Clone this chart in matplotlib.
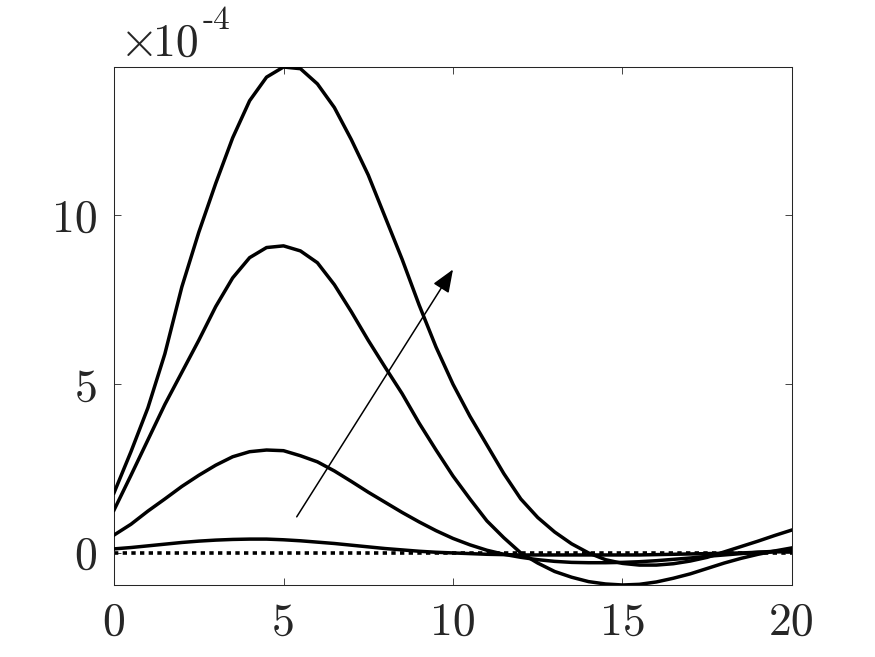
import matplotlib
matplotlib.use("Agg")
import matplotlib.pyplot as plt
import numpy as np

plt.rcParams['font.family'] = 'cmr10'
plt.rcParams['mathtext.fontset'] = 'cm'
plt.rcParams['axes.formatter.use_mathtext'] = True

# data, in units of 1e-4, sampled every 0.5 on [0, 20]
x = np.arange(0, 20.01, 0.5)

curve_a = [1.78, 3.0, 4.3, 5.9, 7.88, 9.5, 10.95, 12.3, 13.4, 14.1,
           14.4, 14.35, 13.9, 13.2, 12.25, 11.2, 9.95, 8.7, 7.35, 6.1,
           5.0, 4.05, 3.2, 2.35, 1.6, 1.05, 0.62, 0.27, 0.0, -0.2,
           -0.31, -0.36, -0.36, -0.32, -0.24, -0.13, 0.03, 0.19, 0.35, 0.52,
           0.68]
curve_b = [1.27, 2.3, 3.35, 4.4, 5.35, 6.3, 7.3, 8.15, 8.75, 9.05,
           9.1, 8.95, 8.6, 7.95, 7.15, 6.3, 5.5, 4.72, 3.85, 3.05,
           2.28, 1.6, 0.95, 0.45, 0.0, -0.3, -0.55, -0.72, -0.85, -0.92,
           -0.95, -0.93, -0.86, -0.75, -0.62, -0.46, -0.3, -0.16, -0.04, 0.06,
           0.15]
curve_c = [0.53, 0.85, 1.24, 1.6, 1.97, 2.3, 2.6, 2.85, 3.0, 3.05,
           3.03, 2.88, 2.7, 2.43, 2.12, 1.8, 1.5, 1.2, 0.92, 0.66,
           0.43, 0.24, 0.08, -0.04, -0.13, -0.2, -0.25, -0.28, -0.29, -0.29,
           -0.28, -0.26, -0.23, -0.19, -0.15, -0.1, -0.06, -0.02, 0.02, 0.05,
           0.08]
curve_d = [0.12, 0.16, 0.21, 0.26, 0.31, 0.35, 0.38, 0.40, 0.41, 0.41,
           0.39, 0.36, 0.32, 0.28, 0.23, 0.18, 0.13, 0.09, 0.05, 0.02,
           0.0, -0.02, -0.04, -0.05, -0.06, -0.06, -0.06, -0.06, -0.06, -0.06,
           -0.06, -0.06, -0.05, -0.04, -0.03, -0.02, -0.01, 0.0, 0.02, 0.03,
           0.04]
curve_zero = [0.0] * len(x)

arrow_tail = (5.39, 1.07)
arrow_head = (10.0, 8.4)

x_ticks = [0, 5, 10, 15, 20]
y_ticks = [0, 5, 10]

axis_gray = (0.15, 0.15, 0.15)

fig = plt.figure(figsize=(8.75, 6.57), dpi=100)
ax = fig.add_axes([0.1303, 0.1096, 0.7748, 0.7884])

for c in (curve_a, curve_b, curve_c, curve_d):
    ax.plot(x, c, color='black', linewidth=2.5, zorder=3)
ax.plot(x, curve_zero, color='black', linewidth=2.6, dashes=(1.2, 1.2), zorder=2)

ax.annotate('', xy=arrow_head, xytext=arrow_tail,
            arrowprops=dict(arrowstyle='-|>,head_length=0.7,head_width=0.28',
                            color='black', lw=1.1, mutation_scale=20,
                            shrinkA=0, shrinkB=0))

ax.set_xlim(0, 20)
ax.set_ylim(-0.95, 14.4)
ax.set_xticks(x_ticks)
ax.set_yticks(y_ticks)
ax.set_xticklabels([str(t) for t in x_ticks])
ax.set_yticklabels([str(t) for t in y_ticks])

for s in ax.spines.values():
    s.set_color(axis_gray)
    s.set_linewidth(0.75)
ax.tick_params(direction='in', length=5, width=0.6, color=axis_gray,
               top=True, right=True, labelsize=33, labelcolor=axis_gray)
ax.tick_params(axis='x', pad=12)
ax.tick_params(axis='y', pad=12)

# MATLAB style exponent above the y axis
fig.text(119 / 875, 1 - 56 / 657, r'$\times$', fontsize=36,
         color=axis_gray, ha='left', va='baseline')
fig.text(153 / 875, 1 - 56 / 657, '10', fontsize=33,
         color=axis_gray, ha='left', va='baseline')
fig.text(203 / 875, 1 - 29 / 657, '-4', fontsize=24,
         color=axis_gray, ha='left', va='baseline')

fig.savefig('out.png', dpi=100)
